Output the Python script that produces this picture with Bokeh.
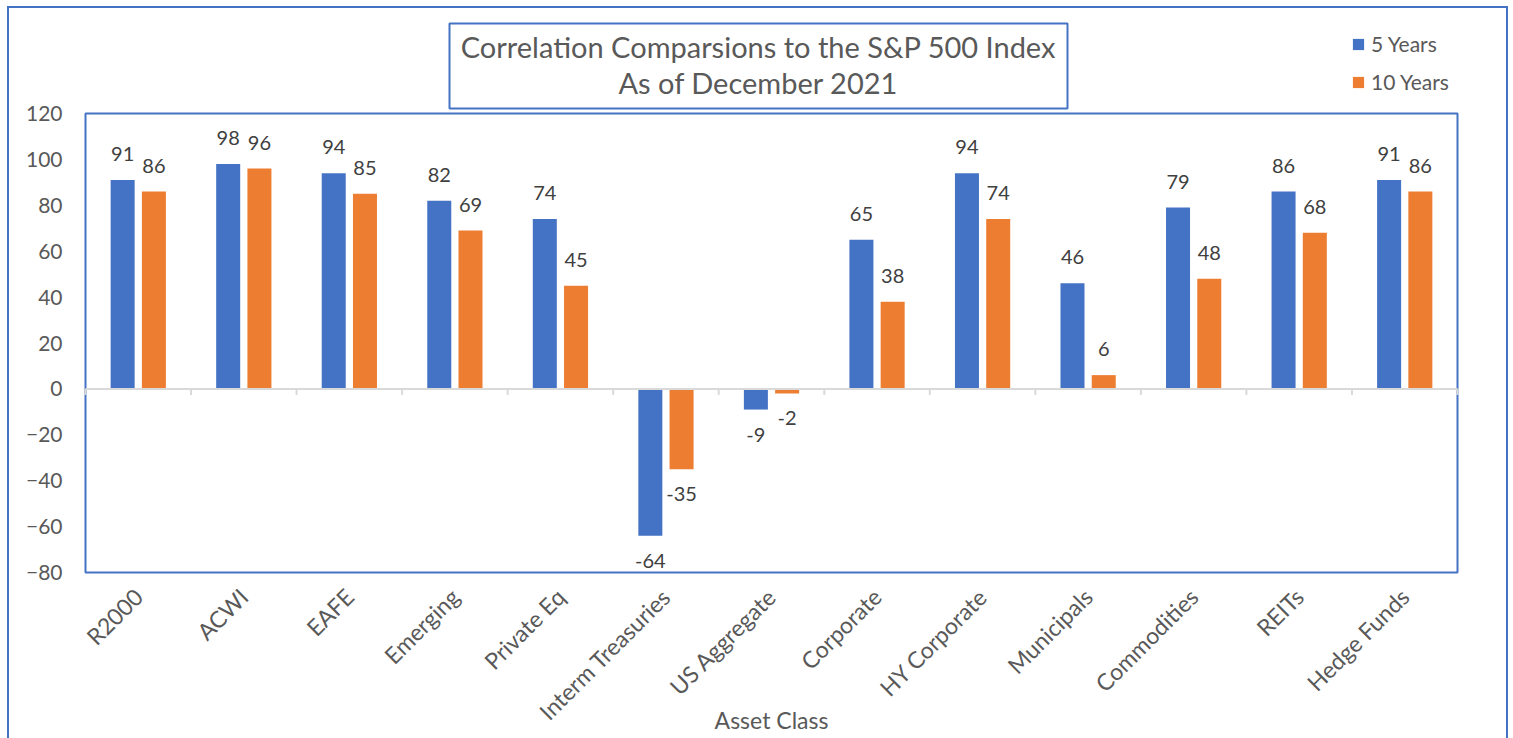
import math
from bokeh.plotting import figure
from bokeh.models import (ColumnDataSource, FactorRange, Range1d, FixedTicker,
                          Label, Legend, LegendItem)
from bokeh.core.properties import value
from bokeh.transform import dodge
from bokeh.embed import file_html
from bokeh.resources import INLINE

# ---- data ----
categories = ["R2000", "ACWI", "EAFE", "Emerging", "Private Eq", "Interm Treasuries",
              "US Aggregate", "Corporate", "HY Corporate", "Municipals", "Commodities",
              "REITs", "Hedge Funds"]
five_years = [91, 98, 94, 82, 74, -64, -9, 65, 94, 46, 79, 86, 91]
ten_years = [86, 96, 85, 69, 45, -35, -2, 38, 74, 6, 48, 68, 86]
y_ticks = [-80, -60, -40, -20, 0, 20, 40, 60, 80, 100, 120]
title_lines = ["Correlation Comparsions to the S&P 500 Index", "As of December 2021"]
series_names = ["5 Years", "10 Years"]
x_title = "Asset Class"

BLUE = "#4472C4"
ORANGE = "#ED7D31"
GREY_TXT = "#595959"
DARK_TXT = "#404040"
FONT = "Lato"

# ---- geometry (page pixels) ----
W, H = 1513, 738
AREA_L, AREA_R, AREA_T, AREA_B = 85, 1457, 113, 572   # plot-area box
PAD = 2
FRAME_T = 16
YMIN, YMAX = -80, 120
col_w = (AREA_R - AREA_L) / len(categories)
ppu = (AREA_B - AREA_T) / (YMAX - YMIN)

def dx(px):
    return (px - AREA_L) / col_w

def dy(py):
    return YMAX - (py - AREA_T) / ppu

frame_l, frame_r = AREA_L - PAD, AREA_R + PAD
frame_b = AREA_B + PAD

p = figure(x_range=FactorRange(*categories, range_padding=PAD / col_w,
                               range_padding_units="absolute"),
           y_range=Range1d(dy(frame_b), dy(FRAME_T)),
           frame_width=frame_r - frame_l, frame_height=frame_b - FRAME_T,
           min_border_left=frame_l, min_border_right=W - frame_r,
           min_border_top=FRAME_T, min_border_bottom=H - frame_b,
           output_backend="svg", toolbar_location=None,
           background_fill_color="white", border_fill_color=None)

# outer chart border (top, left, right edges) drawn as host background lines
p.styles = {
    "background-color": "white",
    "background-image": ", ".join(["linear-gradient(%s, %s)" % (BLUE, BLUE)] * 3),
    "background-position": "7px 6px, 7px 6px, 1506px 6px",
    "background-size": "2px 100%, 1501px 2px, 2px 100%",
    "background-repeat": "no-repeat",
}

p.outline_line_color = None
p.xgrid.visible = False
p.ygrid.visible = False

src = ColumnDataSource(dict(
    cat=categories, y5=five_years, y10=ten_years,
    t5=[str(v) for v in five_years], t10=[str(v) for v in ten_years],
    o5=[-26 if v >= 0 else 25 for v in five_years],
    o10=[-26 if v >= 0 else 25 for v in ten_years],
))

# plot-area border
p.quad(left=[0], right=[len(categories)], bottom=[YMIN], top=[YMAX],
       fill_color=None, line_color=BLUE, line_width=2)

off = 0.148
bw = 0.2275
r5 = p.vbar(x=dodge("cat", -off, range=p.x_range), top="y5", bottom=0, width=bw,
            source=src, fill_color=BLUE, line_color=None)
r10 = p.vbar(x=dodge("cat", off, range=p.x_range), top="y10", bottom=0, width=bw,
             source=src, fill_color=ORANGE, line_color=None)

# zero line + boundary ticks
bounds = list(range(len(categories) + 1))
p.segment(x0=[0], x1=[len(categories)], y0=[0], y1=[0], line_color="#D9D9D9", line_width=2)
p.segment(x0=bounds, x1=bounds, y0=[0] * len(bounds), y1=[-6 / ppu] * len(bounds),
          line_color="#D9D9D9", line_width=2)

# data labels
for xo, col, txt, offcol in ((-off, "y5", "t5", "o5"), (off, "y10", "t10", "o10")):
    p.text(x=dodge("cat", xo, range=p.x_range), y=col, text=txt, y_offset=offcol, source=src,
           text_align="center", text_baseline="middle", text_font_size="20px",
           text_color=DARK_TXT, text_font=value(FONT))

# axes
ya = p.yaxis[0]
ya.ticker = FixedTicker(ticks=y_ticks)
ya.axis_line_color = None
ya.major_tick_line_color = None
ya.minor_tick_line_color = None
ya.major_tick_out = 0
ya.major_label_standoff = 21
ya.major_label_text_font = FONT
ya.major_label_text_font_size = "21px"
ya.major_label_text_color = GREY_TXT

xa = p.xaxis[0]
xa.axis_line_color = None
xa.major_tick_line_color = None
xa.major_tick_out = 0
xa.major_label_orientation = math.pi / 4
xa.major_label_standoff = 18
xa.major_label_text_font = FONT
xa.major_label_text_font_size = "23px"
xa.major_label_text_color = GREY_TXT
xa.axis_label = x_title
xa.axis_label_standoff = -32
xa.axis_label_text_font = FONT
xa.axis_label_text_font_size = "23px"
xa.axis_label_text_font_style = "normal"
xa.axis_label_text_color = GREY_TXT

# title box + title
p.quad(left=[dx(449)], right=[dx(1067)], top=[dy(23)], bottom=[dy(108)],
       fill_color=None, line_color=BLUE, line_width=2)
for line, ypx in zip(title_lines, (46, 82)):
    p.add_layout(Label(x=dx(758), y=dy(ypx), text=line, text_align="center",
                       text_baseline="middle", text_font=FONT, text_font_size="29px",
                       text_color=GREY_TXT))

# legend
legend = Legend(items=[LegendItem(label=series_names[0], renderers=[r5]),
                       LegendItem(label=series_names[1], renderers=[r10])],
                location=(1351 - frame_l, frame_b - 94),
                glyph_width=14, glyph_height=14, label_height=24, label_text_font=FONT,
                label_text_font_size="21px", label_text_color=GREY_TXT,
                label_standoff=6, spacing=13, padding=0, margin=0,
                border_line_color=None, background_fill_alpha=0)
p.add_layout(legend)

open("out.html", "w").write(file_html(p, INLINE))
